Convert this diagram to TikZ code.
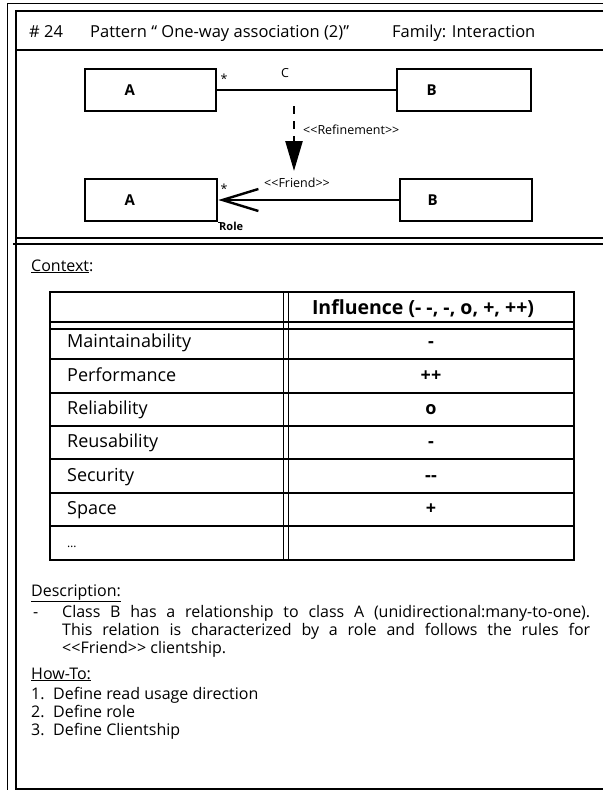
\documentclass[tikz,border=0pt]{standalone}
\usepackage{fontspec}
\setmainfont{Open Sans}
\usetikzlibrary{arrows.meta}

% stereotype brackets, kept apart so they stay two separate signs
\newcommand{\stlt}{{<}{<}}
\newcommand{\stgt}{{>}{>}}

\tikzset{
  rule/.style={line width=2pt},
  hairrule/.style={line width=1pt},
  cls/.style={draw, line width=2.6pt, inner sep=0pt, minimum height=42pt},
  clsname/.style={font=\fontsize{15}{18}\selectfont\bfseries, inner sep=0pt},
  small/.style={font=\fontsize{12.5}{14}\selectfont, inner sep=0pt},
  rolefont/.style={font=\fontsize{11}{13}\selectfont\bfseries, inner sep=0pt},
  assoc/.style={line width=2.2pt},
  refine/.style={line width=2.4pt, dash pattern=on 8pt off 7pt,
                 -{Triangle[length=30pt,width=17pt]}},
  navig/.style={line width=2.4pt, -{Straight Barb[length=36pt,width=22pt]}},
  hdr/.style={font=\fontsize{16.5}{19}\selectfont, inner sep=0pt, anchor=base west},
  body/.style={font=\fontsize{16}{18}\selectfont, inner sep=0pt, anchor=base west},
  tabrule/.style={line width=1.7pt},
  cell/.style={font=\fontsize{18}{20}\selectfont, inner sep=0pt, anchor=base west},
  cellval/.style={font=\fontsize{18}{20}\selectfont\bfseries, inner sep=0pt, anchor=base},
}

\begin{document}
\begin{tikzpicture}[x=1pt,y=-1pt]
\useasboundingbox (0,0) rectangle (603,793);
\fill[white] (0,0) rectangle (603,793);

% page frame
\draw[hairrule] (603,3) -- (7,3) -- (7,790);
\draw[rule] (603,11) -- (15.5,11) -- (15.5,789) -- (603,789);
\draw[rule] (15.5,50) -- (603,50);
\draw[rule] (15.5,237.5) -- (603,237.5);
\draw[rule] (13,244) -- (603,244);

% header
\node[hdr] (num) at (29,37) {\# 24};
\node[hdr] (pat) at (90,37) {Pattern “ One-way association (2)”};
\node[hdr] (fam) at (392,37) {Family: Interaction};

% class diagram
\node[cls, minimum width=131pt] (a1) at (150.5,90) {};
\node[cls, minimum width=134pt] (b1) at (464,90) {};
\node[cls, minimum width=132pt] (a2) at (151,200) {};
\node[cls, minimum width=132pt] (b2) at (466,200) {};
\node[clsname] (la1) at ([xshift=46pt]a1.west) {A};
\node[clsname] (lb1) at ([xshift=36pt]b1.west) {B};
\node[clsname] (la2) at ([xshift=46pt]a2.west) {A};
\node[clsname] (lb2) at ([xshift=34pt]b2.west) {B};

\draw[assoc] (a1.east) -- (b1.west);
\node[small] (m1) at (224,79) {*};
\node[small] (cname) at (285,73) {C};

\coordinate (r0) at (294,106);
\coordinate (r1) at (294,171);
\draw[refine] (r0) -- (r1);
\node[small, anchor=west] (ref) at (303,130) {\stlt Refinement\stgt};

\draw[navig] (b2.west) -- (a2.east);
\node[small, anchor=west] (fr) at (264,183) {\stlt Friend\stgt};
\node[small] (m2) at (224,189) {*};
\draw[line width=1.2pt] (a2.south east) -- ++(3,0);
\node[rolefont, anchor=north west] (role) at (219,222) {Role};

% context
\node[body] (ctx) at (31,271) {\underline{Context}:};

% influence table
\draw[tabrule] (50,292) rectangle (574,560);
\foreach \yy in {322,329,359,393,426,459,493,526}
  \draw[tabrule] (50,\yy) -- (574,\yy);
\draw[tabrule] (283.5,292) -- (283.5,560);
\draw[tabrule] (288.5,292) -- (288.5,560);

\node[cellval, font=\fontsize{19.5}{21}\selectfont\bfseries] (hinf) at (423,314) {Influence (- -, -, o, +, ++)};
\node[cell] (q1) at (67,347) {Maintainability};
\node[cell] (q2) at (67,381) {Performance};
\node[cell] (q3) at (67,414) {Reliability};
\node[cell] (q4) at (67,447) {Reusability};
\node[cell] (q5) at (67,481) {Security};
\node[cell] (q6) at (67,514) {Space};
\node[cell, font=\fontsize{12}{14}\selectfont] (q7) at (67,547) {…};
\node[cellval] (v1) at (431,347) {-};
\node[cellval] (v2) at (431,381) {++};
\node[cellval] (v3) at (431,414) {o};
\node[cellval] (v4) at (431,447) {-};
\node[cellval] (v5) at (431,481) {{-}{-}};
\node[cellval] (v6) at (431,514) {+};

% description
\node[body] (desc) at (31,596) {\underline{Description:}};
\node[body] (dash) at (33,617) {-};
\node[body] (d1) at (62,617) {\makebox[528pt][s]{Class B has a relationship to class A (unidirectional:many-to-one).}};
\node[body] (d2) at (62,635) {\makebox[528pt][s]{This relation is characterized by a role and follows the rules for}};
\node[body] (d3) at (62,653) {\stlt Friend\stgt\ clientship.};

% how-to
\node[body] (how) at (31,679) {\underline{How-To:}};
\node[body] (n1) at (31,699) {1.};
\node[body] (h1) at (53,699) {Define read usage direction};
\node[body] (n2) at (31,717) {2.};
\node[body] (h2) at (53,717) {Define role};
\node[body] (n3) at (31,735) {3.};
\node[body] (h3) at (53,735) {Define Clientship};
\end{tikzpicture}
\end{document}
